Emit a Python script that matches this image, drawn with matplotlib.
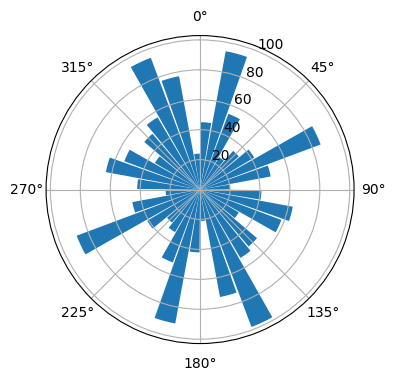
import numpy as np
import matplotlib
matplotlib.use('Agg')
import matplotlib.pyplot as plt

# bin centres in degrees (10 degree bins) and bar heights
directions = np.arange(5, 360, 10)
counts = [45, 94, 54, 25, 34, 42, 86, 48, 20,
          41, 63, 58, 30, 50, 53, 98, 73, 21,
          42, 91, 52, 33, 29, 41, 88, 46, 23,
          42, 64, 54, 35, 49, 56, 94, 77, 24]

fig = plt.figure(figsize=(5, 4))
ax = fig.add_subplot(111, projection='polar')
ax.set_theta_zero_location('N')
ax.set_theta_direction(-1)

ax.bar(np.deg2rad(directions), counts, width=np.deg2rad(9))

plt.savefig('out.png', bbox_inches='tight')
